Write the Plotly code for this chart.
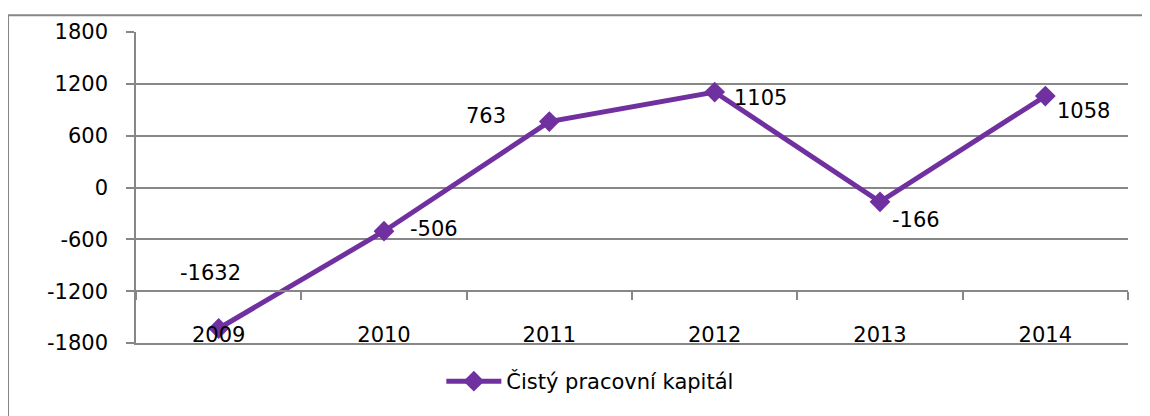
import plotly.graph_objects as go

years = [2009, 2010, 2011, 2012, 2013, 2014]
values = [-1632, -506, 763, 1105, -166, 1058]
series_name = "Čistý pracovní kapitál"
y_ticks = [-1800, -1200, -600, 0, 600, 1200, 1800]

# label offsets in pixels (dx, dy) relative to each point
label_offsets = [(-8, 55), (50, 2), (-63, 6), (46, -6), (36, -18), (38, -15)]

purple = "#7030A0"
grey = "#878787"
font = dict(family="DejaVu Sans", size=21, color="#000000")

fig = go.Figure()
fig.add_trace(go.Scatter(
    x=years, y=values, mode="lines+markers", name=series_name,
    line=dict(color=purple, width=5),
    marker=dict(symbol="diamond", size=16, color=purple),
    xaxis="x", yaxis="y",
))
# invisible traces to activate the secondary x axes
for ax in ["x2", "x3"]:
    fig.add_trace(go.Scatter(x=[years[0]], y=[values[0]], mode="markers",
                             marker=dict(opacity=0), showlegend=False,
                             xaxis=ax, yaxis="y", hoverinfo="skip"))

for yr, v, (dx, dy) in zip(years, values, label_offsets):
    fig.add_annotation(x=yr, y=v, text=str(v), showarrow=False,
                       xshift=dx, yshift=dy, font=font)

xr = [years[0] - 0.5, years[-1] + 0.5]
bounds = [y - 0.5 for y in years] + [years[-1] + 0.5]
yr_range = [y_ticks[0], y_ticks[-1]]

fig.update_layout(
    width=1142, height=408,
    margin=dict(l=128, r=22, t=21, b=73),
    paper_bgcolor="white", plot_bgcolor="white",
    font=font,
    showlegend=True,
    legend=dict(orientation="h", x=0.458, y=-0.124, xanchor="center", yanchor="middle",
                itemwidth=55, font=font, bgcolor="rgba(0,0,0,0)"),
    xaxis=dict(range=xr, showticklabels=False, ticks="", showgrid=False,
               showline=True, linecolor=grey, linewidth=1.5, zeroline=False),
    xaxis2=dict(range=xr, overlaying="x", anchor="free",
                position=(-1200 - yr_range[0]) / (yr_range[1] - yr_range[0]),
                side="bottom", tickvals=bounds, showticklabels=False,
                ticks="outside", ticklen=8, tickcolor=grey, tickwidth=1.5,
                showline=True, linecolor=grey, linewidth=1.5,
                showgrid=False, zeroline=False),
    xaxis3=dict(range=xr, overlaying="x", anchor="free", position=0.075,
                side="bottom", tickvals=years, ticktext=[str(y) for y in years],
                ticks="", showline=False, showgrid=False, zeroline=False,
                tickfont=font),
    yaxis=dict(range=yr_range, tickvals=y_ticks, ticktext=[str(v) for v in y_ticks],
               ticks="outside", ticklen=8,
               tickcolor=grey, tickwidth=1.5, showline=True, linecolor=grey,
               linewidth=1.5, showgrid=True, gridcolor=grey, gridwidth=1.5,
               zeroline=False, tickfont=font, ticklabelstandoff=14),
)

fig.add_shape(type="rect", xref="paper", yref="paper",
              x0=-0.129, x1=1.2, y0=-0.5, y1=1.054,
              line=dict(color=grey, width=2), layer="below")

fig.write_html("out.html")
